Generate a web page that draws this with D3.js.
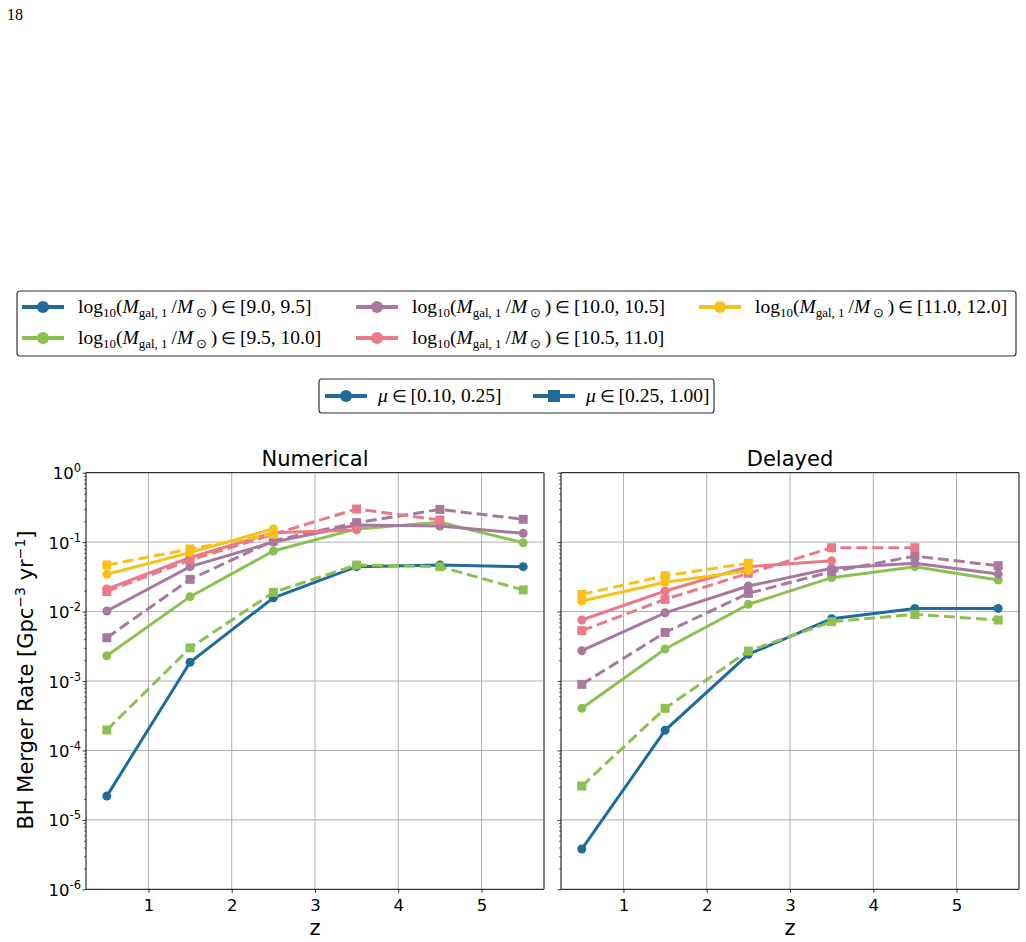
<!DOCTYPE html>
<html>
<head>
<meta charset="utf-8">
<script src="https://cdn.jsdelivr.net/npm/d3@7"></script>
<style>
  body { margin: 0; background: #fff; }
  svg { display: block; }
</style>
</head>
<body>
<svg id="chart" width="1026" height="942"></svg>
<script>
// ---------------------------------------------------------------- data

var zBins = [0.5, 1.5, 2.5, 3.5, 4.5, 5.5];
var massBins = ['[9.0, 9.5]', '[9.5, 10.0]', '[10.0, 10.5]', '[10.5, 11.0]', '[11.0, 12.0]'];
var muBins = ['[0.10, 0.25]', '[0.25, 1.00]'];
var panelTitles = ['Numerical', 'Delayed'];
var yTicks = [1e-6, 1e-5, 1e-4, 1e-3, 1e-2, 1e-1, 1];
var xTicks = [1, 2, 3, 4, 5];

// rates per mass bin, mu in [0.10,0.25] (solid) and [0.25,1.00] (dashed)
var numMuLow = [
  [2.2e-5, 1.86e-3, 0.0158, 0.0443, 0.0468, 0.0443],
  [2.31e-3, 0.0164, 0.0745, 0.155, 0.193, 0.098],
  [0.0102, 0.0443, 0.100, 0.177, 0.171, 0.134],
  [0.0211, 0.060, 0.137, 0.150, null, null],
  [0.0344, 0.0707, 0.156, null, null, null]
];
var numMuHigh = [
  [null, null, null, null, null, null],
  [1.97e-4, 3.0e-3, 0.0189, 0.0468, 0.0443, 0.0205],
  [4.2e-3, 0.0291, 0.105, 0.191, 0.296, 0.213],
  [0.0195, 0.055, 0.130, 0.300, 0.208, null],
  [0.0468, 0.0796, 0.131, null, null, null]
];
var delMuLow = [
  [3.8e-6, 1.95e-4, 2.42e-3, 7.9e-3, 0.0111, 0.0111],
  [4.04e-4, 2.89e-3, 0.0127, 0.0308, 0.0443, 0.0285],
  [2.73e-3, 9.6e-3, 0.0233, 0.0419, 0.0495, 0.0348],
  [7.55e-3, 0.0198, 0.0443, 0.054, null, null],
  [0.0142, 0.0264, 0.0388, null, null, null]
];
var delMuHigh = [
  [null, null, null, null, null, null],
  [3.07e-5, 4.04e-4, 2.7e-3, 7.15e-3, 9.1e-3, 7.55e-3],
  [8.95e-4, 5.0e-3, 0.0183, 0.0375, 0.063, 0.0458],
  [5.3e-3, 0.015, 0.0355, 0.083, 0.083, null],
  [0.0177, 0.0328, 0.0495, null, null, null]
];

// ---------------------------------------------------------------- setup

var colors = ['#1f6c9b', '#8cc152', '#a8789f', '#ea7a8a', '#f6c21a'];
var svg = d3.select('#chart');
var top_y = 472.7, bottom_y = 889.3;
var panels = [
  { x0: 86, x1: 544, low: numMuLow, high: numMuHigh, rightSpine: '#808080' },
  { x0: 561, x1: 1019, low: delMuLow, high: delMuHigh, rightSpine: '#000' }
];
var sansFont = 'DejaVu Sans, sans-serif';
var serifFont = 'Liberation Serif, Times New Roman, serif';

// page number
svg.append('text').attr('x', 7).attr('y', 20).style('font-family', serifFont)
  .style('font-size', '16px').text('18');

var y = d3.scaleLog().domain([1e-6, 1]).range([bottom_y, top_y]);

panels.forEach(function(p, pi){
  var x = d3.scaleLinear().domain([0.25, 5.75]).range([p.x0, p.x1]);
  var g = svg.append('g');

  // grid
  g.selectAll('.gx').data(xTicks).enter().append('line')
    .attr('x1', d => x(d)).attr('x2', d => x(d)).attr('y1', top_y).attr('y2', bottom_y)
    .attr('stroke', '#b0b0b0').attr('stroke-width', 1);
  g.selectAll('.gy').data(yTicks.slice(1, -1)).enter().append('line')
    .attr('x1', p.x0).attr('x2', p.x1).attr('y1', d => y(d)).attr('y2', d => y(d))
    .attr('stroke', '#b0b0b0').attr('stroke-width', 1);

  // x axis
  var xAxis = d3.axisBottom(x).tickValues(xTicks).tickSize(3.5).tickPadding(6).tickFormat(d3.format('d'));
  var ax = g.append('g').attr('transform', 'translate(0,' + bottom_y + ')').call(xAxis);
  ax.select('.domain').remove();
  ax.selectAll('line').attr('stroke', '#000').attr('stroke-width', 0.8);
  ax.selectAll('text').style('font-family', sansFont).style('font-size', '16.5px').attr('fill', '#000');

  // y axis (major + minor)
  var minor = [];
  for (var e = -6; e < 0; e++) for (var m = 2; m <= 9; m++) minor.push(m * Math.pow(10, e));
  var yMinor = d3.axisLeft(y).tickValues(minor).tickSize(2).tickFormat('');
  var aym = g.append('g').attr('transform', 'translate(' + p.x0 + ',0)').call(yMinor);
  aym.select('.domain').remove();
  aym.selectAll('line').attr('stroke', '#000').attr('stroke-width', 0.6);

  var yAxis = d3.axisLeft(y).tickValues(yTicks).tickSize(3.5).tickPadding(4).tickFormat('');
  var ay = g.append('g').attr('transform', 'translate(' + p.x0 + ',0)').call(yAxis);
  ay.select('.domain').remove();
  ay.selectAll('line').attr('stroke', '#000').attr('stroke-width', 0.8);
  if (pi === 0) {
    yTicks.forEach(function(t){
      var ex = Math.round(Math.log10(t));
      var txt = g.append('text').attr('x', 81).attr('y', y(t) + 6.5).attr('text-anchor', 'end')
        .style('font-family', sansFont).style('font-size', '16.5px');
      txt.append('tspan').text('10');
      txt.append('tspan').attr('dy', -7).style('font-size', '11.5px').text(String(ex));
    });
  }

  // series
  var line = d3.line().defined(d => d[1] !== null).x(d => x(d[0])).y(d => y(d[1]));
  massBins.forEach(function(mb, i){
    [p.low[i], p.high[i]].forEach(function(vals, k){
      var pts = zBins.map((z, j) => [z, vals[j]]);
      var valid = pts.filter(d => d[1] !== null);
      if (!valid.length) return;
      g.append('path').datum(pts).attr('d', line).attr('fill', 'none')
        .attr('stroke', colors[i]).attr('stroke-width', 3)
        .attr('stroke-dasharray', k === 1 ? '11,5' : null);
      if (k === 0) {
        g.selectAll(null).data(valid).enter().append('circle')
          .attr('cx', d => x(d[0])).attr('cy', d => y(d[1])).attr('r', 4.5).attr('fill', colors[i]);
      } else {
        g.selectAll(null).data(valid).enter().append('rect')
          .attr('x', d => x(d[0]) - 4.5).attr('y', d => y(d[1]) - 4.5)
          .attr('width', 9).attr('height', 9).attr('fill', colors[i]);
      }
    });
  });

  // spines
  g.append('line').attr('x1', p.x0).attr('x2', p.x1).attr('y1', top_y).attr('y2', top_y).attr('stroke', '#000').attr('stroke-width', 1);
  g.append('line').attr('x1', p.x0).attr('x2', p.x1).attr('y1', bottom_y).attr('y2', bottom_y).attr('stroke', '#000').attr('stroke-width', 1);
  g.append('line').attr('x1', p.x0).attr('x2', p.x0).attr('y1', top_y).attr('y2', bottom_y).attr('stroke', '#000').attr('stroke-width', 1);
  g.append('line').attr('x1', p.x1).attr('x2', p.x1).attr('y1', top_y).attr('y2', bottom_y).attr('stroke', p.rightSpine).attr('stroke-width', pi === 0 ? 2 : 1);

  // titles
  var cx = (p.x0 + p.x1) / 2;
  g.append('text').attr('x', cx).attr('y', 466).attr('text-anchor', 'middle')
    .style('font-family', sansFont).style('font-size', '21px').text(panelTitles[pi]);
  g.append('text').attr('x', cx).attr('y', 935).attr('text-anchor', 'middle')
    .style('font-family', sansFont).style('font-size', '21px').text('z');
});

// y label
var yl = svg.append('text').attr('transform', 'translate(33,680) rotate(-90)').attr('text-anchor', 'middle')
  .style('font-family', sansFont).style('font-size', '21px');
yl.append('tspan').text('BH Merger Rate [Gpc');
yl.append('tspan').attr('dy', -8).style('font-size', '14px').text('\u22123');
yl.append('tspan').attr('dy', 8).text(' yr');
yl.append('tspan').attr('dy', -8).style('font-size', '14px').text('\u22121');
yl.append('tspan').attr('dy', 8).text(']');

// ---------------------------------------------------------------- legends

function massLabel(t, bin){
  t.append('tspan').text('log');
  t.append('tspan').attr('dy', 4).style('font-size', '13px').text('10');
  t.append('tspan').attr('dy', -4).text('(');
  t.append('tspan').style('font-style', 'italic').text('M');
  t.append('tspan').attr('dy', 4).style('font-size', '13px').text('gal, 1');
  t.append('tspan').attr('dy', -4).text('\u2009/');
  t.append('tspan').style('font-style', 'italic').text('M');
  t.append('tspan').attr('dy', 4).style('font-size', '13px').text('\u2009\u2299');
  t.append('tspan').attr('dy', -4).text('\u2009)\u2009');
  t.append('tspan').style('font-size', '17px').text('\u2208');
  t.append('tspan').text('\u2009' + bin);
}

svg.append('rect').attr('x', 17).attr('y', 291).attr('width', 999).attr('height', 65).attr('rx', 3)
  .attr('fill', '#fff').attr('stroke', '#333').attr('stroke-width', 1.2);

var legPos = [[22, 307], [22, 338], [356, 307], [356, 338], [699, 307]];
massBins.forEach(function(mb, i){
  var lx = legPos[i][0], ly = legPos[i][1];
  svg.append('line').attr('x1', lx).attr('x2', lx + 42).attr('y1', ly).attr('y2', ly)
    .attr('stroke', colors[i]).attr('stroke-width', 4);
  svg.append('circle').attr('cx', lx + 21).attr('cy', ly).attr('r', 6).attr('fill', colors[i]);
  var t = svg.append('text').attr('x', lx + 56).attr('y', ly + 6)
    .style('font-family', serifFont).style('font-size', '19.5px');
  massLabel(t, mb);
});

svg.append('rect').attr('x', 319).attr('y', 379).attr('width', 395).attr('height', 34).attr('rx', 3)
  .attr('fill', '#fff').attr('stroke', '#333').attr('stroke-width', 1.2);
var muPos = [325, 533];
muBins.forEach(function(mb, k){
  var lx = muPos[k], ly = 396;
  svg.append('line').attr('x1', lx).attr('x2', lx + 42).attr('y1', ly).attr('y2', ly)
    .attr('stroke', colors[0]).attr('stroke-width', 4);
  if (k === 0) svg.append('circle').attr('cx', lx + 21).attr('cy', ly).attr('r', 6).attr('fill', colors[0]);
  else svg.append('rect').attr('x', lx + 15).attr('y', ly - 6).attr('width', 12).attr('height', 12).attr('fill', colors[0]);
  var t = svg.append('text').attr('x', lx + 53).attr('y', ly + 6)
    .style('font-family', serifFont).style('font-size', '19.5px');
  t.append('tspan').style('font-style', 'italic').text('\u03bc');
  t.append('tspan').text('\u2009');
  t.append('tspan').style('font-size', '17px').text('\u2208');
  t.append('tspan').text('\u2009' + mb);
});
</script>
</body>
</html>
